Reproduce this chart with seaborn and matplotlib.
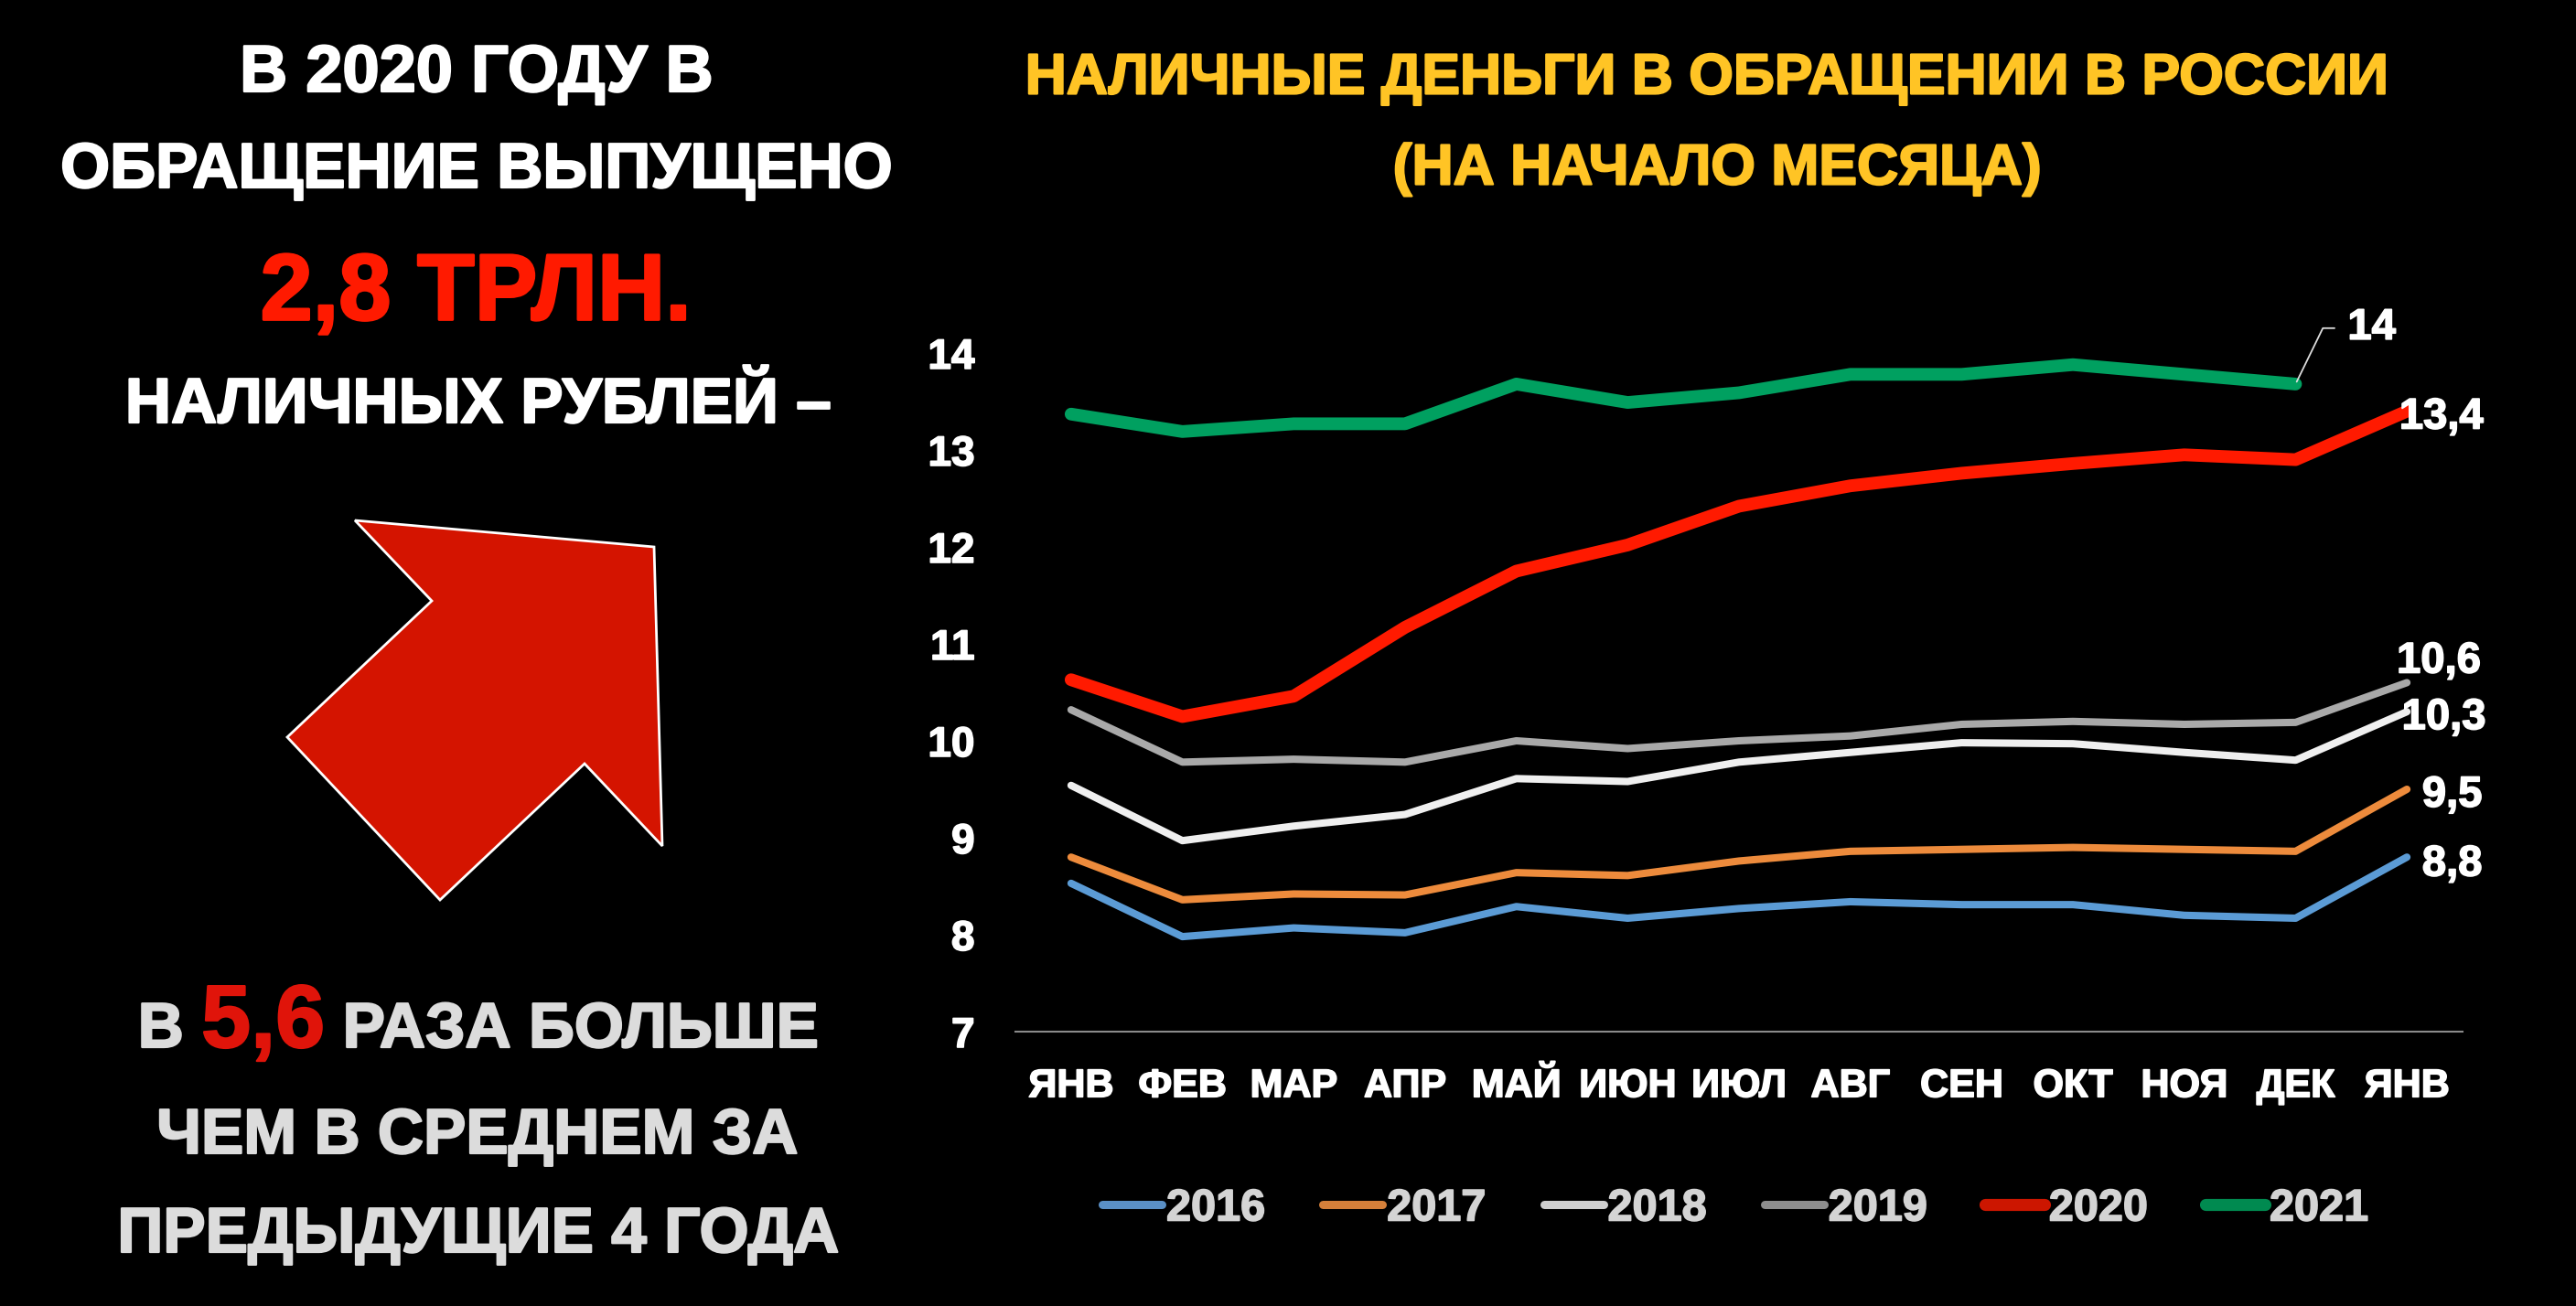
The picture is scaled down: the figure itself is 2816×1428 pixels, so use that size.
import numpy as np
import pandas as pd
import matplotlib
matplotlib.use("Agg")
import matplotlib.pyplot as plt
import matplotlib.patheffects as pe
import seaborn as sns
from matplotlib.patches import Polygon
from matplotlib.lines import Line2D

# ---------------- data ----------------
months = ["ЯНВ", "ФЕВ", "МАР", "АПР", "МАЙ", "ИЮН", "ИЮЛ", "АВГ", "СЕН", "ОКТ", "НОЯ", "ДЕК", "ЯНВ"]
years = ["2016", "2017", "2018", "2019", "2020", "2021"]
v2016 = [8.53, 7.98, 8.07, 8.02, 8.29, 8.17, 8.27, 8.34, 8.31, 8.31, 8.20, 8.17, 8.8]
v2017 = [8.80, 8.36, 8.42, 8.41, 8.64, 8.61, 8.76, 8.86, 8.88, 8.90, 8.88, 8.86, 9.5]
v2018 = [9.54, 8.97, 9.12, 9.24, 9.61, 9.58, 9.78, 9.88, 9.98, 9.97, 9.88, 9.80, 10.3]
v2019 = [10.32, 9.78, 9.81, 9.78, 10.00, 9.92, 10.00, 10.05, 10.17, 10.20, 10.17, 10.19, 10.6]
v2020 = [10.63, 10.25, 10.46, 11.17, 11.75, 12.02, 12.42, 12.63, 12.76, 12.86, 12.95, 12.90, 13.4]
v2021 = [13.37, 13.19, 13.27, 13.27, 13.68, 13.49, 13.59, 13.78, 13.78, 13.88, 13.78, 13.68]
end_labels = ["8,8", "9,5", "10,3", "10,6", "13,4", "14"]
yticks = [7, 8, 9, 10, 11, 12, 13, 14]

series = [v2016, v2017, v2018, v2019, v2020, v2021]

# ---------------- styles ----------------
line_colors = ["#5B9BD5", "#ED8B3C", "#EFEFEF", "#A9A9A9", "#FF1A00", "#00A060"]
legend_colors = ["#5A90C6", "#D5803A", "#CFCFCF", "#8E8E8E", "#CC1600", "#008A50"]
line_widths = [5.8, 5.8, 5.8, 5.8, 10.0, 10.0]
legend_widths = [6.5, 6.5, 6.5, 6.5, 9.5, 9.5]
FONT = ["Liberation Sans", "Arial", "DejaVu Sans"]

sns.set_theme(style="dark")
plt.rcParams["font.family"] = FONT
plt.rcParams["font.weight"] = "bold"


def thick(color, w=1.6):
    return [pe.withStroke(linewidth=w, foreground=color)]


rows = []
for yr, vals in zip(years, series):
    for i, v in enumerate(vals):
        rows.append({"year": yr, "pos": i, "value": v})
df = pd.DataFrame(rows)

W, H = 2816, 1428
fig = plt.figure(figsize=(W / 100, H / 100), dpi=100, facecolor="black")
ax = fig.add_axes([1110 / W, 1 - 1128 / H, 1582 / W, 7.5 * 106 / H])
ax.set_facecolor("black")

for yr, c, lw in zip(years, line_colors, line_widths):
    sub = df[df["year"] == yr]
    sns.lineplot(data=sub, x="pos", y="value", color=c, linewidth=lw, ax=ax,
                 legend=False, sort=False, solid_capstyle="round", solid_joinstyle="round")

ax.set_xlim(-0.5, len(months) - 0.5)
ax.set_ylim(7, 14.5)
ax.set_xticks(range(len(months)))
ax.set_xticklabels(months)
ax.set_yticks(yticks)
ax.set_yticklabels([str(t) for t in yticks])
ax.set_xlabel("")
ax.set_ylabel("")
ax.grid(False)
for s in ["top", "right", "left"]:
    ax.spines[s].set_visible(False)
ax.spines["bottom"].set_color("#8A8A8A")
ax.spines["bottom"].set_linewidth(1.5)
ax.tick_params(axis="both", length=0, colors="white")
ax.tick_params(axis="y", pad=32, labelsize=33)
ax.tick_params(axis="x", pad=29, labelsize=31)
for lab in ax.get_xticklabels() + ax.get_yticklabels():
    lab.set_fontweight("bold")
    lab.set_color("white")
    lab.set_path_effects(thick("white", 1.2))

# end labels (offsets in points from the last point of each line)
offsets = {"2016": (12, -6), "2017": (12, -5), "2018": (-4, -5), "2019": (-8, 16.5), "2020": (-6, -5)}
for yr, vals, lab in zip(years, series, end_labels):
    x_end = len(vals) - 1
    if yr == "2021":
        ax.annotate(lab, xy=(x_end, vals[-1]), xytext=(41, 44), textcoords="offset points",
                    color="white", fontsize=34, fontweight="bold", ha="left", va="center",
                    path_effects=thick("white", 1.2),
                    arrowprops=dict(arrowstyle="-", color="#DDDDDD", lw=1.3, relpos=(0, 0.5),
                                    connectionstyle="angle,angleA=0,angleB=64,rad=0",
                                    shrinkA=8, shrinkB=2))
    else:
        dx, dy = offsets[yr]
        ax.annotate(lab, xy=(x_end, vals[-1]), xytext=(dx, dy), textcoords="offset points",
                    color="white", fontsize=34, fontweight="bold", ha="left", va="center",
                    path_effects=thick("white", 1.2))

# legend
handles = [Line2D([0], [0], color=c, lw=lw, solid_capstyle="round")
           for c, lw in zip(legend_colors, legend_widths)]
leg = fig.legend(handles, years, loc="center", bbox_to_anchor=(1897 / W, 1 - 1322 / H), ncol=6,
                 frameon=False, fontsize=35, handlelength=1.34, handletextpad=0.1,
                 columnspacing=1.3)
for t in leg.get_texts():
    t.set_color("#D4D4D4")
    t.set_fontweight("bold")
    t.set_path_effects(thick("#D4D4D4", 1.2))

# title
title_color = "#FFC425"
fig.text(1865 / W, 1 - 86 / H, "НАЛИЧНЫЕ ДЕНЬГИ В ОБРАЩЕНИИ В РОССИИ", color=title_color,
         fontsize=45, fontweight="bold", ha="center", va="center", path_effects=thick(title_color))
fig.text(1877 / W, 1 - 185 / H, "(НА НАЧАЛО МЕСЯЦА)", color=title_color,
         fontsize=45, fontweight="bold", ha="center", va="center", path_effects=thick(title_color))

# left texts
fig.text(521 / W, 1 - 81 / H, "В 2020 ГОДУ В", color="white", fontsize=52,
         fontweight="bold", ha="center", va="center", path_effects=thick("white"))
fig.text(521 / W, 1 - 187 / H, "ОБРАЩЕНИЕ ВЫПУЩЕНО", color="white", fontsize=50,
         fontweight="bold", ha="center", va="center", path_effects=thick("white"))
fig.text(520 / W, 1 - 323 / H, "2,8 ТРЛН.", color="#FF1A00", fontsize=74,
         fontweight="bold", ha="center", va="center", path_effects=thick("#FF1A00", 2.0))
fig.text(523 / W, 1 - 444 / H, "НАЛИЧНЫХ РУБЛЕЙ –", color="white", fontsize=50,
         fontweight="bold", ha="center", va="center", path_effects=thick("white"))

# arrow
arrow_px = [(388, 569), (715, 598), (724, 925), (639, 835), (481, 984), (314, 806), (472, 657)]
arrow = Polygon([(x / W, 1 - y / H) for x, y in arrow_px], closed=True, transform=fig.transFigure,
                facecolor="#D41400", edgecolor="white", linewidth=2.0)
fig.patches.append(arrow)

gray_txt = "#DCDCDC"
# mixed-colour line
fig.canvas.draw()
renderer = fig.canvas.get_renderer()
parts = [("В ", gray_txt, 50), ("5,6", "#E0140A", 70), (" РАЗА БОЛЬШЕ", gray_txt, 50)]
tmp = []
for s, c, fs in parts:
    t = fig.text(0, 0, s, fontsize=fs, fontweight="bold", color=c)
    tmp.append(t)
widths = [t.get_window_extent(renderer).width for t in tmp]
for t in tmp:
    t.remove()
total = sum(widths)
x0 = 523 - total / 2
yb = 1 - 1145 / H
for (s, c, fs), w in zip(parts, widths):
    fig.text(x0 / W, yb, s, fontsize=fs, fontweight="bold", color=c, ha="left", va="baseline",
             path_effects=thick(c))
    x0 += w

fig.text(522 / W, 1 - 1243 / H, "ЧЕМ В СРЕДНЕМ ЗА", color=gray_txt, fontsize=50,
         fontweight="bold", ha="center", va="center", path_effects=thick(gray_txt))
fig.text(523 / W, 1 - 1351 / H, "ПРЕДЫДУЩИЕ 4 ГОДА", color=gray_txt, fontsize=50,
         fontweight="bold", ha="center", va="center", path_effects=thick(gray_txt))

fig.savefig("out.png", dpi=100, facecolor="black")
